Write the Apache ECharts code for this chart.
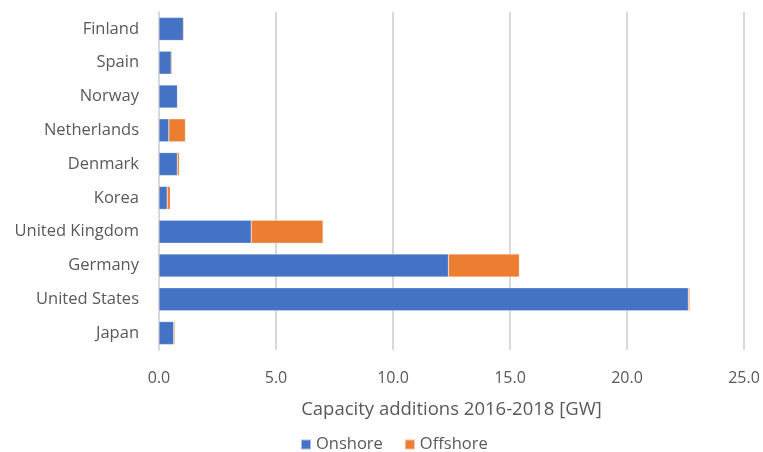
<!DOCTYPE html>
<html>
<head>
<meta charset="utf-8">
<script src="https://cdn.jsdelivr.net/npm/echarts@6/dist/echarts.min.js"></script>
<style>html,body{margin:0;padding:0;background:#fff}#c{width:763px;height:452px}</style>
</head>
<body>
<div id="c"></div>
<script>
const categories = ["Japan","United States","Germany","United Kingdom","Korea","Denmark","Netherlands","Norway","Spain","Finland"];
const onshore  = [0.63, 22.62, 12.37, 3.94, 0.35, 0.78, 0.42, 0.79, 0.52, 1.04];
const offshore = [0.05, 0.06, 3.03, 3.07, 0.13, 0.09, 0.71, 0.0, 0.05, 0.04];
const xTicks = [0, 5, 10, 15, 20, 25];
const axisTitle = "Capacity additions 2016-2018 [GW]";
const seriesNames = ["Onshore", "Offshore"];

const FONT = "Open Sans";
const chart = echarts.init(document.getElementById('c'), null, {renderer: 'canvas'});
chart.setOption({
  animation: false,
  textStyle: {fontFamily: FONT},
  grid: {left: 159, right: 19, top: 12, bottom: 102, containLabel: false},
  legend: {
    data: seriesNames, top: 436, left: 300, padding: 0,
    icon: 'rect', itemWidth: 10, itemHeight: 10, itemGap: 21,
    textStyle: {color: '#595959', fontSize: 16.5, fontFamily: FONT}
  },
  xAxis: {
    type: 'value', min: xTicks[0], max: xTicks[xTicks.length-1], interval: 5,
    name: axisTitle, nameLocation: 'middle', nameGap: 51,
    nameTextStyle: {color: '#595959', fontSize: 18.5, fontFamily: FONT, verticalAlign: 'top', lineHeight: 18},
    axisLabel: {color: '#595959', fontSize: 16, margin: 20, formatter: v => v.toFixed(1)},
    axisLine: {show: false}, axisTick: {show: false},
    splitLine: {lineStyle: {color: '#d9d9d9', width: 2}}
  },
  yAxis: {
    type: 'category', data: categories,
    axisLabel: {color: '#595959', fontSize: 16.5, margin: 20},
    axisLine: {show: true, lineStyle: {color: '#d9d9d9', width: 2}},
    axisTick: {show: false}
  },
  series: [
    {name: seriesNames[0], type: 'bar', stack: 'a', data: onshore, barCategoryGap: '32%',
     itemStyle: {color: '#4472c4', borderColor: 'rgba(255,255,255,0.5)', borderWidth: 0.5}},
    {name: seriesNames[1], type: 'bar', stack: 'a', data: offshore, barCategoryGap: '32%',
     itemStyle: {color: '#ed7d31', borderColor: 'rgba(255,255,255,0.5)', borderWidth: 0.5}}
  ]
});
</script>
</body>
</html>
